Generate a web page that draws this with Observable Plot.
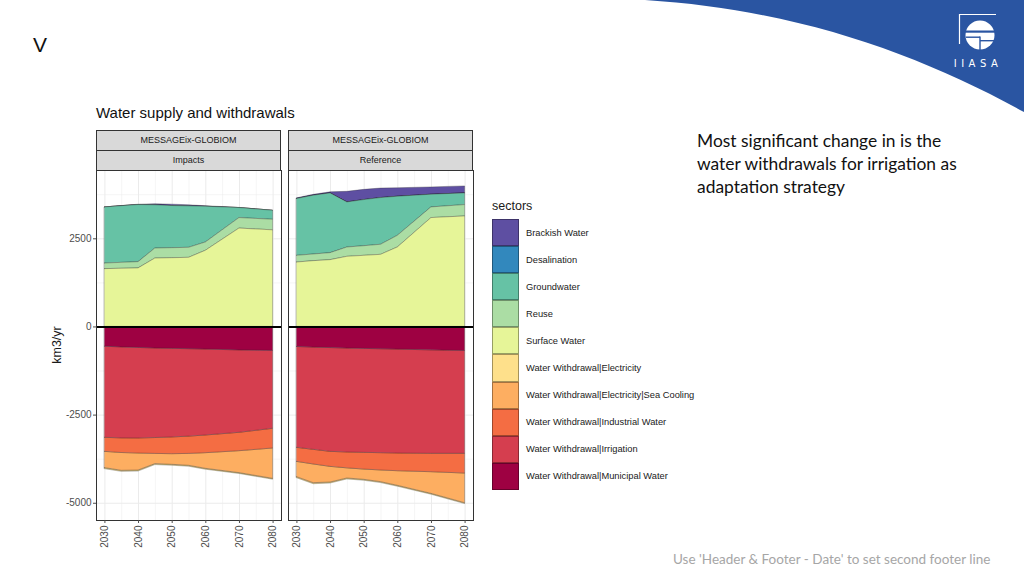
<!DOCTYPE html>
<html>
<head>
<meta charset="utf-8">
<script src="https://cdn.jsdelivr.net/npm/d3@7"></script>
<script src="https://cdn.jsdelivr.net/npm/@observablehq/plot@0.6"></script>
<style>
  html, body { margin: 0; padding: 0; background: #fff; }
  #slide { position: relative; width: 1024px; height: 576px; overflow: hidden; background: #fff; font-family: "Liberation Sans", Arial, sans-serif; }
  .abs { position: absolute; }
  .strip { position: absolute; box-sizing: border-box; background: #D9D9D9; border: 1px solid #333; color: #1A1A1A; font-size: 9px; text-align: center; }
  #legend .row { display: flex; align-items: center; height: 27.1px; }
  #legend .key { width: 27px; height: 27.1px; box-sizing: border-box; border: 0.5px solid rgba(0,0,0,0.35); }
  #legend .lab { margin-left: 7px; font-size: 9.3px; color: #1A1A1A; white-space: nowrap; }
</style>
</head>
<body>
<div id="slide">
  <svg class="abs" style="left:0;top:0" width="1024" height="140">
    <path d="M645,0 L1024,0 L1024,112 C920,55 800,10 645,0 Z" fill="#2A55A2"/>
    <g stroke="#fff" fill="none" stroke-width="1.2">
      <path d="M959.5,44 L959.5,14.5 L996,14.5"/>
    </g>
    <circle cx="980" cy="35" r="14.5" fill="#fff"/>
    <rect x="965" y="30.5" width="31" height="2.2" fill="#2A55A2"/>
    <rect x="966" y="36.5" width="14" height="1.4" fill="#2A55A2"/>
    <rect x="979.3" y="36.5" width="1.4" height="14" fill="#2A55A2"/>
    <rect x="980" y="40" width="16" height="1.4" fill="#2A55A2"/>
    <text x="978" y="67" fill="#fff" font-family="DejaVu Sans" font-size="10" letter-spacing="4.5" text-anchor="middle">IIASA</text>
  </svg>
  <div class="abs" style="left:33px;top:33px;font-size:21px;color:#111;">V</div>
  <div class="abs" style="left:96px;top:104px;font-size:15px;color:#111;">Water supply and withdrawals</div>
  <div id="chart" class="abs" style="left:40px;top:128px;"></div>
  <div class="abs" style="left:57px;top:345px;width:0;height:0;">
    <div style="position:absolute;transform:translate(-50%,-50%) rotate(-90deg);font-size:12.5px;color:#1A1A1A;white-space:nowrap;">km3/yr</div>
  </div>
  <div class="abs" style="left:492px;top:199px;font-size:12.5px;color:#1A1A1A;">sectors</div>
  <div id="legend" class="abs" style="left:492px;top:219px;"></div>
  <div class="abs" style="left:697px;top:129px;font-family:Lato, 'Open Sans', sans-serif;font-size:17.4px;line-height:23px;color:#111;">Most significant change in is the<br>water withdrawals for irrigation as<br>adaptation strategy</div>
  <div class="abs" style="left:673px;top:551px;font-family:Lato, 'Open Sans', sans-serif;font-size:13.5px;color:#A6A6A6;white-space:nowrap;">Use 'Header &amp; Footer - Date' to set second footer line</div>
</div>
<script>
// ---- data (km3/yr) ----
const years = [2030, 2035, 2040, 2045, 2050, 2055, 2060, 2070, 2080];
const scenarios = ["Impacts", "Reference"];
const sectors = [
  "Brackish Water", "Desalination", "Groundwater", "Reuse", "Surface Water",
  "Water Withdrawal|Electricity", "Water Withdrawal|Electricity|Sea Cooling",
  "Water Withdrawal|Industrial Water", "Water Withdrawal|Irrigation", "Water Withdrawal|Municipal Water"
];
const sectorColors = ["#5E4FA2", "#3288BD", "#66C2A5", "#ABDDA4", "#E6F598", "#FEE08B", "#FDAE61", "#F46D43", "#D53E4F", "#9E0142"];

// Impacts
const impBrackish   = [0, 5, 10, 30, 40, 30, 15, 5, 0];
const impDesal      = [0, 0, 0, 0, 0, 0, 0, 0, 0];
const impGround     = [1591, 1607, 1619, 1226, 1195, 1176, 1014, 284, 255];
const impReuse      = [158, 168, 178, 284, 284, 284, 235, 298, 300];
const impSurface    = [1640, 1650, 1660, 1940, 1950, 1960, 2160, 2790, 2740];
const impElec       = [-30, -30, -29, -28, -27, -27, -26, -25, -25];
const impSeaCool    = [-461, -504, -482, -289, -301, -337, -443, -622, -860];
const impIndustrial = [-398, -415, -426, -450, -474, -490, -502, -521, -559];
const impIrrigation = [-2584, -2580, -2568, -2540, -2514, -2480, -2438, -2337, -2208];
const impMunicipal  = [-560, -580, -595, -610, -620, -630, -640, -665, -680];

// Reference
const refBrackish   = [20, 25, 30, 300, 290, 270, 240, 208, 198];
const refDesal      = [0, 0, 0, 0, 0, 0, 0, 0, 0];
const refGround     = [1610, 1667, 1695, 1279, 1308, 1325, 1108, 360, 332];
const refReuse      = [190, 189, 199, 264, 273, 285, 331, 302, 322];
const refSurface    = [1827, 1866, 1894, 1989, 2017, 2045, 2254, 3088, 3134];
const refElec       = [-30, -30, -29, -28, -27, -27, -26, -25, -25];
const refSeaCool    = [-433, -530, -443, -287, -291, -331, -414, -614, -841];
const refIndustrial = [-398, -415, -426, -450, -474, -490, -502, -521, -559];
const refIrrigation = [-2860, -2900, -2944, -2948, -2948, -2948, -2947, -2934, -2916];
const refMunicipal  = [-568, -585, -598, -612, -622, -632, -642, -664, -682];

const xTicks = [2030, 2040, 2050, 2060, 2070, 2080];
const xMinor = [2035, 2045, 2055, 2065, 2075];
const yTicks = [-5000, -2500, 0, 2500];
const yMinor = [-3750, -1250, 1250, 3750];

const seriesByScenario = {
  Impacts: [impBrackish, impDesal, impGround, impReuse, impSurface, impElec, impSeaCool, impIndustrial, impIrrigation, impMunicipal],
  Reference: [refBrackish, refDesal, refGround, refReuse, refSurface, refElec, refSeaCool, refIndustrial, refIrrigation, refMunicipal]
};

const rows = [];
for (const sc of scenarios) {
  seriesByScenario[sc].forEach((vals, si) => {
    vals.forEach((v, yi) => rows.push({scenario: sc, sector: sectors[si], year: years[yi], value: v}));
  });
}
const stackOrder = sectors.slice().reverse();

const chart = Plot.plot({
  width: 440,
  height: 425,
  marginLeft: 56,
  marginRight: 6,
  marginTop: 42,
  marginBottom: 33,
  style: {fontFamily: "Liberation Sans, Arial, sans-serif", fontSize: "10px", background: "transparent"},
  fx: {domain: scenarios, paddingInner: 0.0364, paddingOuter: 0, axis: null},
  x: {domain: [2027.5, 2082.5]},
  y: {domain: [-5489, 4437]},
  color: {domain: sectors, range: sectorColors},
  marks: [
    Plot.ruleX(xMinor, {stroke: "#EBEBEB", strokeWidth: 0.5}),
    Plot.ruleY(yMinor, {stroke: "#EBEBEB", strokeWidth: 0.5}),
    Plot.ruleX(xTicks, {stroke: "#EBEBEB", strokeWidth: 1}),
    Plot.ruleY(yTicks, {stroke: "#EBEBEB", strokeWidth: 1}),
    Plot.areaY(rows, {
      x: "year", y: "value", fill: "sector", fx: "scenario",
      order: stackOrder,
      stroke: "#222", strokeWidth: 0.5, strokeOpacity: 0.6
    }),
    Plot.ruleY([0], {stroke: "#000", strokeWidth: 2}),
    Plot.frame({stroke: "#333", strokeWidth: 1}),
    Plot.axisY({ticks: yTicks, tickSize: 3, tickPadding: 2, tickFormat: d => String(d), label: null, color: "#4D4D4D"}),
    Plot.axisX({ticks: xTicks, tickSize: 3, tickPadding: 2, tickRotate: -90, tickFormat: d => String(d), label: null, color: "#4D4D4D"})
  ]
});
document.getElementById("chart").appendChild(chart);

// facet strips, placed from the fx scale
const fx = chart.scale("fx");
const slide = document.getElementById("slide");
for (const sc of scenarios) {
  const left = 40 + fx.apply(sc);
  const w = fx.bandwidth;
  const s1 = document.createElement("div");
  s1.className = "strip";
  Object.assign(s1.style, {left: left + "px", top: "130px", width: w + "px", height: "21px", lineHeight: "19px"});
  s1.textContent = "MESSAGEix-GLOBIOM";
  slide.appendChild(s1);
  const s2 = document.createElement("div");
  s2.className = "strip";
  Object.assign(s2.style, {left: left + "px", top: "150px", width: w + "px", height: "21px", lineHeight: "19px"});
  s2.textContent = sc;
  slide.appendChild(s2);
}

// legend
const legend = document.getElementById("legend");
sectors.forEach((s, i) => {
  const r = document.createElement("div");
  r.className = "row";
  const k = document.createElement("div");
  k.className = "key";
  k.style.background = sectorColors[i];
  const l = document.createElement("div");
  l.className = "lab";
  l.textContent = s;
  r.appendChild(k); r.appendChild(l);
  legend.appendChild(r);
});
</script>
</body>
</html>
